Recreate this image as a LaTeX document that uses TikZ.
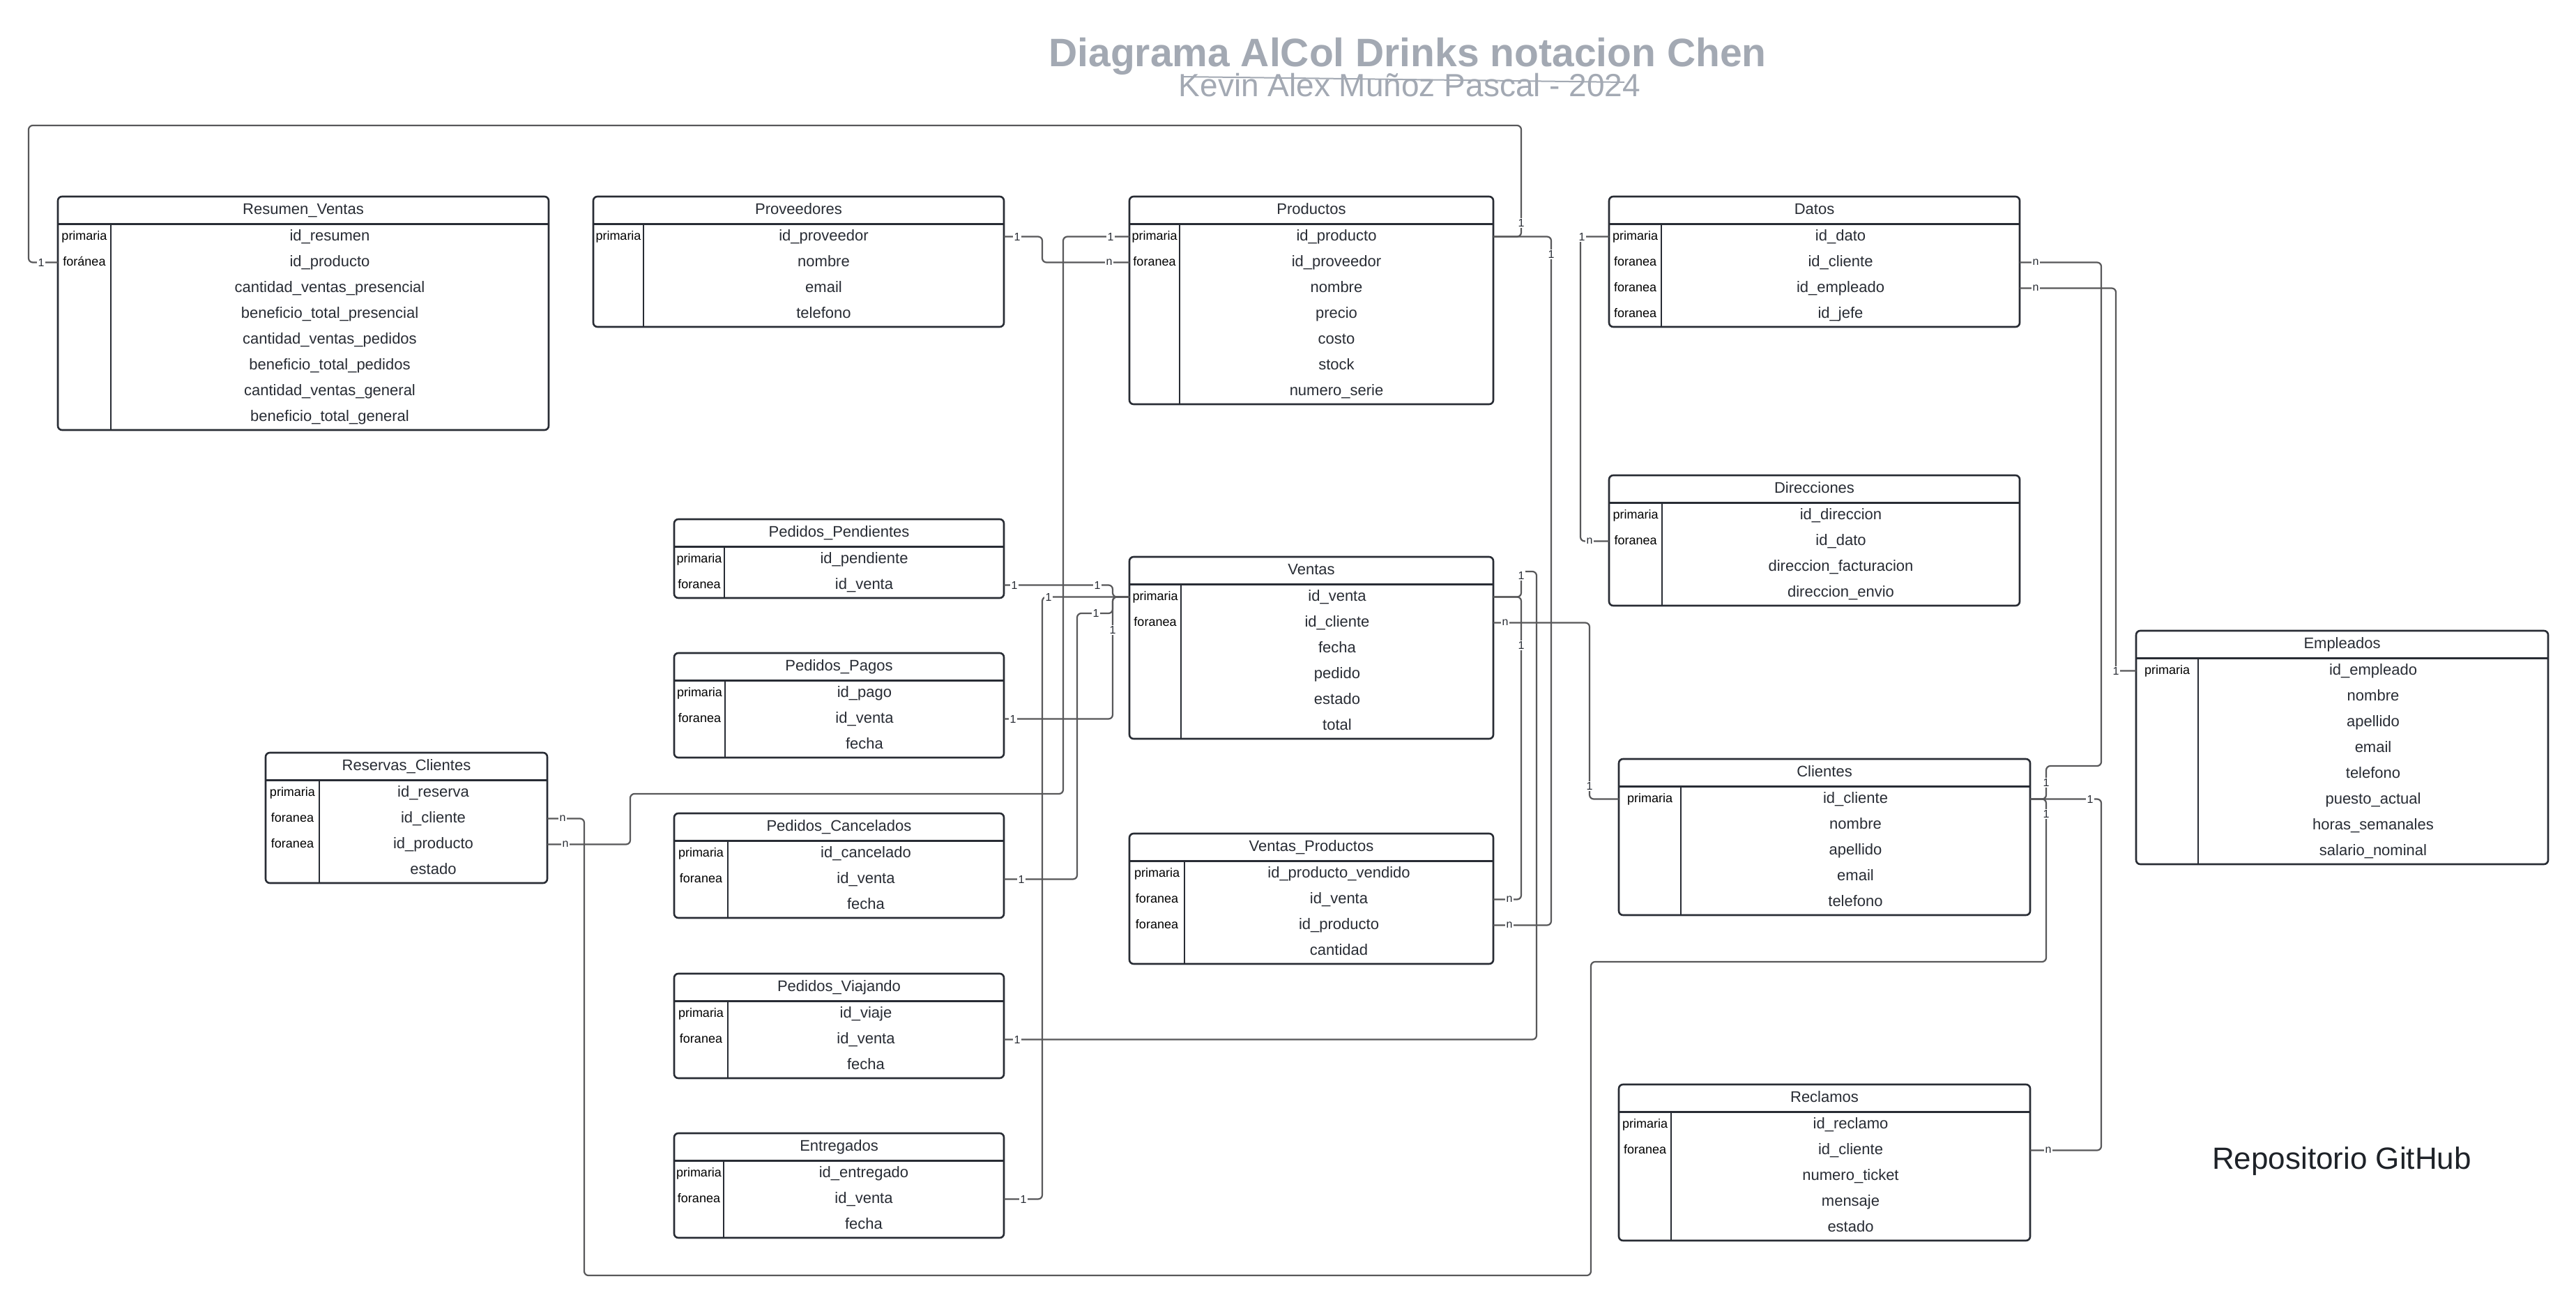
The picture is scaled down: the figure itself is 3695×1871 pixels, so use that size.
\documentclass[tikz,border=0pt]{standalone}
\usepackage{fontspec}
\setmainfont{Liberation Sans}
\definecolor{tblc}{RGB}{40,44,52}
\definecolor{conc}{RGB}{88,88,90}
\definecolor{ttlc}{RGB}{163,169,179}
\definecolor{repc}{RGB}{30,34,40}
\tikzset{
 tbl/.style={draw=tblc, line width=2.6pt},
 tblhdr/.style={draw=tblc, line width=3pt},
 tbldiv/.style={draw=tblc, line width=2pt},
 ttl/.style={anchor=base, inner sep=0pt, font=\fontsize{22}{26}\selectfont, text=tblc},
 fld/.style={anchor=base, inner sep=0pt, font=\fontsize{22}{26}\selectfont, text=tblc},
 keyf/.style={anchor=base, inner sep=0pt, font=\fontsize{18}{22}\selectfont, text=black},
 conn/.style={draw=conc, line width=2.2pt, rounded corners=6pt},
 card/.style={fill=white, inner sep=1.5pt, font=\fontsize{16}{18}\selectfont, text=tblc},
}
% #1 name, #2 L, #3 T, #4 R, #5 D, #6 title, #7 rows, #8 key/field list
\newcommand{\erdtable}[8]{%
  \pgfmathsetmacro\erdB{#3+39+37*#7}%
  \draw[tbl, rounded corners=6pt] (#2,#3) rectangle (#4,\erdB);
  \draw[tblhdr] (#2,#3+39) -- (#4,#3+39);
  \draw[tbldiv] (#5,#3+39) -- (#5,\erdB);
  \node[ttl] (#1) at ({(#2+#4)/2},#3+25) {#6};
  \foreach \k/\f [count=\i] in {#8} {%
    \pgfmathsetmacro\yy{#3+39+37*(\i-0.5)}%
    \node[keyf] (#1-k\i) at ({(#2+#5)/2},\yy+5) {\k};
    \node[fld] (#1-f\i) at ({(#5+#4)/2},\yy+6) {\f};
    \coordinate (#1-\i-w) at (#2,\yy);
    \coordinate (#1-\i-e) at (#4,\yy);
  }%
}
\begin{document}
\begin{tikzpicture}[x=1pt,y=-1pt]
\fill[white] (0,0) rectangle (3695,1871);
\useasboundingbox (0,0) rectangle (3695,1871);

% titles
\node[anchor=base, inner sep=0pt, text=ttlc, font=\bfseries\fontsize{57}{60}\selectfont] (title) at (2019,95) {Diagrama AlCol Drinks notacion Chen};
\node[anchor=base, inner sep=0pt, text=ttlc, font=\fontsize{46}{50}\selectfont] (subtitle) at (2022,138) {Kevin Alex Muñoz Pascal - 2024};
\coordinate (strikeA) at (1694,110);
\coordinate (strikeB) at (2330,118);
\draw[ttlc, line width=2pt] (strikeA) -- (strikeB);

\node[anchor=base, inner sep=0pt, text=repc, font=\fontsize{44}{48}\selectfont] (repo) at (3359,1677) {Repositorio GitHub};

% tables
\erdtable{rv}{83}{282}{787}{159}{Resumen\_Ventas}{8}{primaria/id\_resumen, foránea/id\_producto, {}/cantidad\_ventas\_presencial, {}/beneficio\_total\_presencial, {}/cantidad\_ventas\_pedidos, {}/beneficio\_total\_pedidos, {}/cantidad\_ventas\_general, {}/beneficio\_total\_general}
\erdtable{prov}{851}{282}{1440}{923}{Proveedores}{4}{primaria/id\_proveedor, {}/nombre, {}/email, {}/telefono}
\erdtable{prod}{1620}{282}{2142}{1692}{Productos}{7}{primaria/id\_producto, foranea/id\_proveedor, {}/nombre, {}/precio, {}/costo, {}/stock, {}/numero\_serie}
\erdtable{dat}{2308}{282}{2897}{2383}{Datos}{4}{primaria/id\_dato, foranea/id\_cliente, foranea/id\_empleado, foranea/id\_jefe}
\erdtable{dir}{2308}{682}{2897}{2384}{Direcciones}{4}{primaria/id\_direccion, foranea/id\_dato, {}/direccion\_facturacion, {}/direccion\_envio}
\erdtable{emp}{3064}{905}{3655}{3153}{Empleados}{8}{primaria/id\_empleado, {}/nombre, {}/apellido, {}/email, {}/telefono, {}/puesto\_actual, {}/horas\_semanales, {}/salario\_nominal}
\erdtable{pen}{967}{745}{1440}{1039}{Pedidos\_Pendientes}{2}{primaria/id\_pendiente, foranea/id\_venta}
\erdtable{ven}{1620}{799}{2142}{1694}{Ventas}{6}{primaria/id\_venta, foranea/id\_cliente, {}/fecha, {}/pedido, {}/estado, {}/total}
\erdtable{pag}{967}{937}{1440}{1040}{Pedidos\_Pagos}{3}{primaria/id\_pago, foranea/id\_venta, {}/fecha}
\erdtable{res}{381}{1080}{785}{458}{Reservas\_Clientes}{4}{primaria/id\_reserva, foranea/id\_cliente, foranea/id\_producto, {}/estado}
\erdtable{cli}{2322}{1089}{2912}{2411}{Clientes}{5}{primaria/id\_cliente, {}/nombre, {}/apellido, {}/email, {}/telefono}
\erdtable{can}{967}{1167}{1440}{1044}{Pedidos\_Cancelados}{3}{primaria/id\_cancelado, foranea/id\_venta, {}/fecha}
\erdtable{vp}{1620}{1196}{2142}{1699}{Ventas\_Productos}{4}{primaria/id\_producto\_vendido, foranea/id\_venta, foranea/id\_producto, {}/cantidad}
\erdtable{via}{967}{1397}{1440}{1044}{Pedidos\_Viajando}{3}{primaria/id\_viaje, foranea/id\_venta, {}/fecha}
\erdtable{rec}{2322}{1556}{2912}{2397}{Reclamos}{5}{primaria/id\_reclamo, foranea/id\_cliente, {}/numero\_ticket, {}/mensaje, {}/estado}
\erdtable{ent}{967}{1626}{1440}{1038}{Entregados}{3}{primaria/id\_entregado, foranea/id\_venta, {}/fecha}

% connectors
\draw[conn] (prov-1-e) -| (1495,376.5) -- (prod-2-w);
\draw[conn] (res-3-e) -| (904,1139) -| (1525,339.5) -- (prod-1-w);
\draw[conn] (prod-1-e) -| (2182,180) -| (41,376.5) -- (rv-2-w);
\draw[conn] (vp-3-e) -| (2225,339.5) -- (prod-1-e);
\draw[conn] (dat-1-w) -| (2267,776.5) -- (dir-2-w);
\draw[conn] (dat-2-e) -| (3014,1099) -| (2935,1146.5) -- (cli-1-e);
\draw[conn] (dat-3-e) -| (3035,962.5) -- (emp-1-w);
\draw[conn] (cli-1-e) -| (3014,1650.5) -- (rec-2-e);
\draw[conn] (cli-1-e) -| (2935,1380) -| (2282,1830) -| (838,1174.5) -- (res-2-e);
\draw[conn] (ven-2-e) -| (2280,1146.5) -- (cli-1-w);
\draw[conn] (ven-1-e) -| (2182,820) -| (2204,1491.5) -- (via-2-e);
\draw[conn] (vp-2-e) -| (2182,856.5) -- (ven-1-e);
\draw[conn] (pen-2-e) -| (1596,856.5) -- (ven-1-w);
\draw[conn] (pag-2-e) -| (1596,856.5) -- (ven-1-w);
\draw[conn] (ent-2-e) -| (1495,856.5) -- (ven-1-w);
\draw[conn] (can-2-e) -| (1545,880) -| (1596,856.5) -- (ven-1-w);

% cardinality labels
\node[card] (l1) at (1459,339.5) {1};
\node[card] (l2) at (1591,376.5) {n};
\node[card] (l3) at (811,1211.5) {n};
\node[card] (l4) at (1593,339.5) {1};
\node[card] (l5) at (2182,320) {1};
\node[card] (l6) at (59,376.5) {1};
\node[card] (l7) at (2165,1327.5) {n};
\node[card] (l8) at (2225,365) {1};
\node[card] (l9) at (2269,339.5) {1};
\node[card] (l10) at (2280,776.5) {n};
\node[card] (l11) at (2920,376.5) {n};
\node[card] (l12) at (2935,1123) {1};
\node[card] (l13) at (2920,413.5) {n};
\node[card] (l14) at (3035,962.5) {1};
\node[card] (l15) at (2998,1146.5) {1};
\node[card] (l16) at (2938,1650.5) {n};
\node[card] (l17) at (2935,1168) {1};
\node[card] (l18) at (807,1174.5) {n};
\node[card] (l19) at (2159,893.5) {n};
\node[card] (l20) at (2280,1128) {1};
\node[card] (l21) at (1459,1491.5) {1};
\node[card] (l22) at (2182,826) {1};
\node[card] (l23) at (2165,1290.5) {n};
\node[card] (l24) at (2182,926) {1};
\node[card] (l25) at (1455,839.5) {1};
\node[card] (l26) at (1574,839.5) {1};
\node[card] (l27) at (1453,1031.5) {1};
\node[card] (l28) at (1596,904) {1};
\node[card] (l29) at (1468,1720.5) {1};
\node[card] (l30) at (1504,856.5) {1};
\node[card] (l31) at (1465,1261.5) {1};
\node[card] (l32) at (1572,880) {1};
\end{tikzpicture}
\end{document}
